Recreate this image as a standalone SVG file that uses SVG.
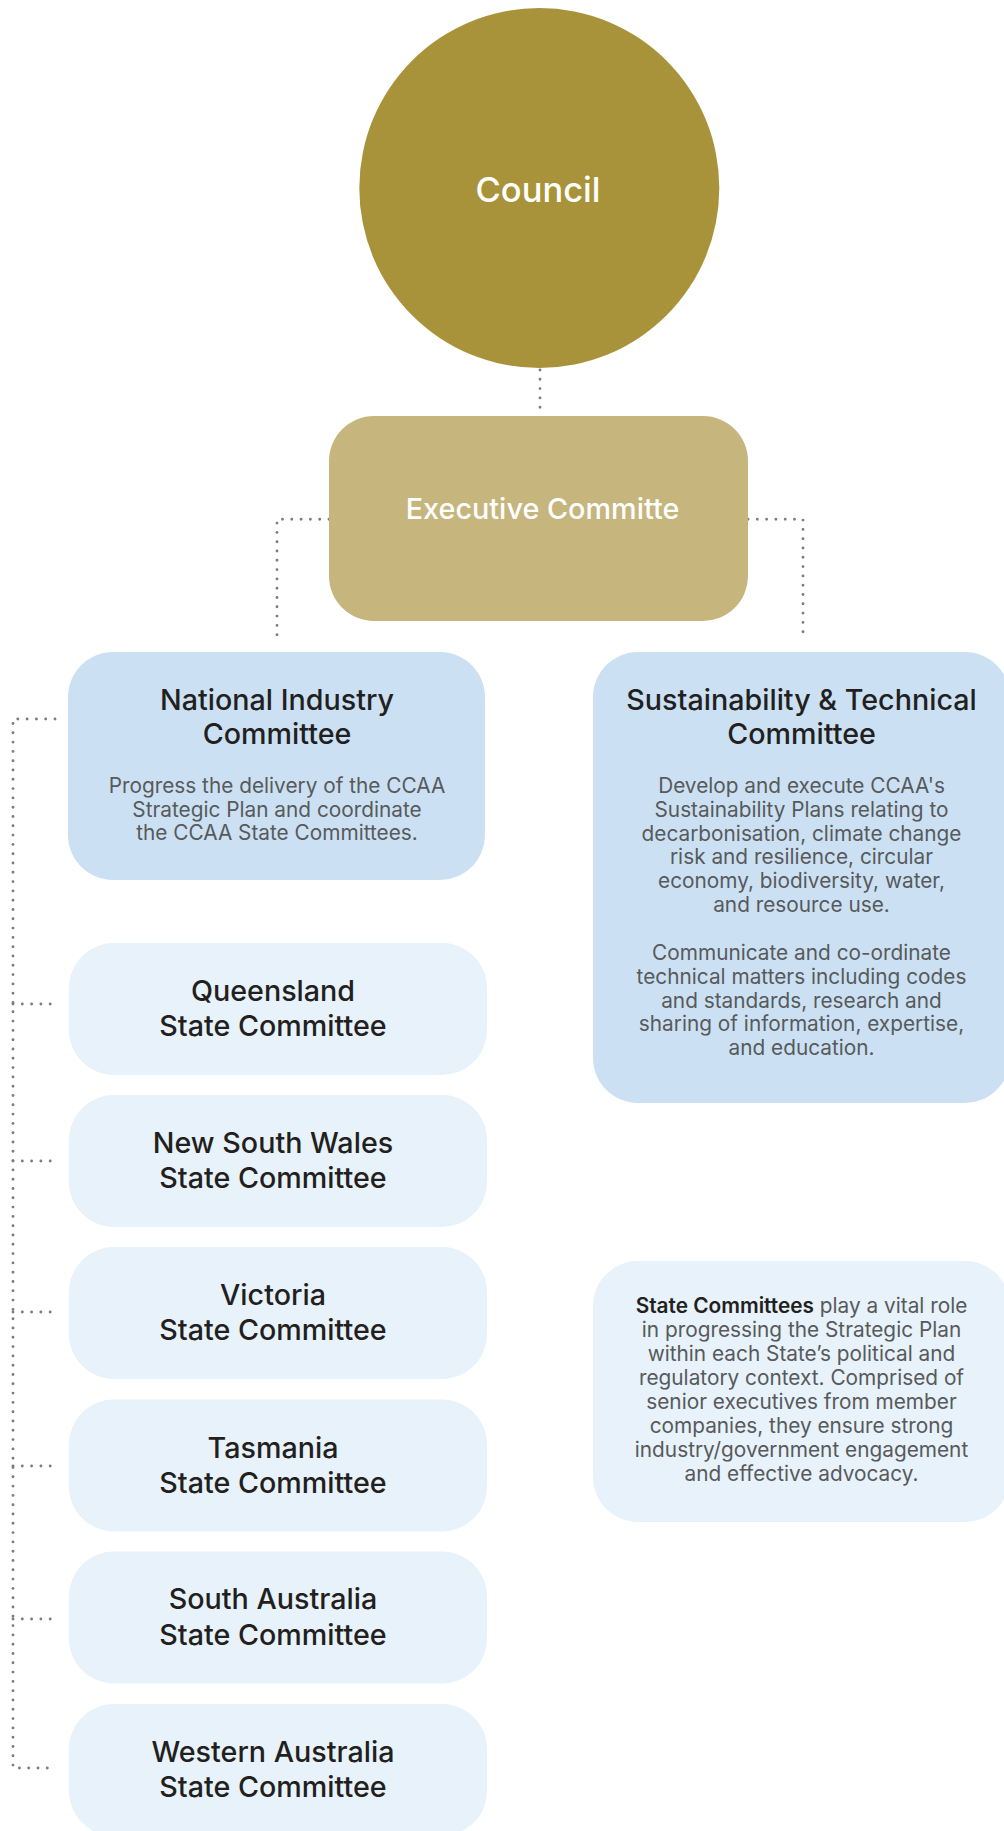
<svg xmlns="http://www.w3.org/2000/svg" width="1004" height="1831" viewBox="0 0 1004 1831">
<style>
.t{font-family:Inter,"Liberation Sans",sans-serif;text-anchor:middle;}
.title{font-size:28.7px;font-weight:500;fill:#231F20;}
.body{font-size:20.8px;font-weight:400;fill:#58595B;}
.blue{fill:#CBE1F3;}
.light{fill:#E7F2FA;}
.dot{fill:none;stroke:#7D7D80;stroke-width:2.9;stroke-linecap:round;stroke-dasharray:0 9.3;}
</style>
<rect width="1004" height="1831" fill="#FFFFFF"/>
<g id="connectors">
<path class="dot" d="M540 370 V415"/>
<path class="dot" d="M329 519.3 H277 V638"/>
<path class="dot" d="M748 519.3 H803 V638"/>
<path class="dot" d="M55 719 H13 V1768 H55"/>
<path class="dot" d="M13 1004 H55"/>
<path class="dot" d="M13 1161 H55"/>
<path class="dot" d="M13 1312 H55"/>
<path class="dot" d="M13 1466 H55"/>
<path class="dot" d="M13 1619 H55"/>
</g>
<g id="council">
<circle cx="539.3" cy="188" r="180" fill="#A8933A"/>
<text class="t" x="538" y="201.5" font-size="34.5" font-weight="500" fill="#FFFFFF">Council</text>
</g>
<g id="executive">
<rect x="329" y="416" width="419" height="205" rx="45" fill="#C6B57D"/>
<text class="t" x="542.5" y="519" font-size="28.8" font-weight="500" fill="#FFFFFF">Executive Committe</text>
</g>
<g id="national">
<rect class="blue" x="68" y="652" width="417" height="228" rx="45"/>
<text class="t title" x="277" y="710">National Industry</text>
<text class="t title" x="277" y="744">Committee</text>
<text class="t body" x="277" y="793">Progress the delivery of the CCAA</text>
<text class="t body" x="277" y="816.5">Strategic Plan and coordinate</text>
<text class="t body" x="277" y="840">the CCAA State Committees.</text>
</g>
<g id="sustainability">
<rect class="blue" x="593" y="652" width="417" height="451" rx="45"/>
<text class="t title" x="801.5" y="710">Sustainability &amp; Technical</text>
<text class="t title" x="801.5" y="744">Committee</text>
<text class="t body" x="801.5" y="793">Develop and execute CCAA's</text>
<text class="t body" x="801.5" y="816.8">Sustainability Plans relating to</text>
<text class="t body" x="801.5" y="840.6">decarbonisation, climate change</text>
<text class="t body" x="801.5" y="864.4">risk and resilience, circular</text>
<text class="t body" x="801.5" y="888.2">economy, biodiversity, water,</text>
<text class="t body" x="801.5" y="912">and resource use.</text>
<text class="t body" x="801.5" y="960">Communicate and co-ordinate</text>
<text class="t body" x="801.5" y="983.8">technical matters including codes</text>
<text class="t body" x="801.5" y="1007.6">and standards, research and</text>
<text class="t body" x="801.5" y="1031.4">sharing of information, expertise,</text>
<text class="t body" x="801.5" y="1055.2">and education.</text>
</g>
<g id="queensland">
<rect class="light" x="69" y="943" width="418" height="132" rx="45"/>
<text class="t title" x="273" y="1001">Queensland</text>
<text class="t title" x="273" y="1036">State Committee</text>
</g>
<g id="nsw">
<rect class="light" x="69" y="1095" width="418" height="132" rx="45"/>
<text class="t title" x="273" y="1153">New South Wales</text>
<text class="t title" x="273" y="1188">State Committee</text>
</g>
<g id="victoria">
<rect class="light" x="69" y="1247" width="418" height="132" rx="45"/>
<text class="t title" x="273" y="1305">Victoria</text>
<text class="t title" x="273" y="1340">State Committee</text>
</g>
<g id="tasmania">
<rect class="light" x="69" y="1399.5" width="418" height="132" rx="45"/>
<text class="t title" x="273" y="1457.5">Tasmania</text>
<text class="t title" x="273" y="1492.5">State Committee</text>
</g>
<g id="southaustralia">
<rect class="light" x="69" y="1551.5" width="418" height="132" rx="45"/>
<text class="t title" x="273" y="1609">South Australia</text>
<text class="t title" x="273" y="1644.5">State Committee</text>
</g>
<g id="westernaustralia">
<rect class="light" x="69" y="1704" width="418" height="132" rx="45"/>
<text class="t title" x="273" y="1762">Western Australia</text>
<text class="t title" x="273" y="1797">State Committee</text>
</g>
<g id="statecommittees">
<rect class="light" x="593" y="1261" width="417" height="261" rx="45"/>
<text class="t body" x="801.5" y="1312.7"><tspan font-weight="600" fill="#231F20">State Committees</tspan> play a vital role</text>
<text class="t body" x="801.5" y="1336.7">in progressing the Strategic Plan</text>
<text class="t body" x="801.5" y="1360.7">within each State’s political and</text>
<text class="t body" x="801.5" y="1384.7">regulatory context. Comprised of</text>
<text class="t body" x="801.5" y="1408.7">senior executives from member</text>
<text class="t body" x="801.5" y="1432.7">companies, they ensure strong</text>
<text class="t body" x="801.5" y="1456.7">industry/government engagement</text>
<text class="t body" x="801.5" y="1480.7">and effective advocacy.</text>
</g>
</svg>
